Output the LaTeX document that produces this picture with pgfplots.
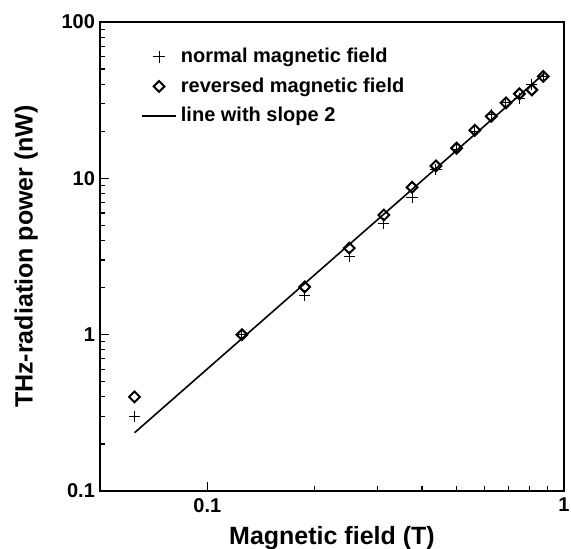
\documentclass[border=0pt]{standalone}
\usepackage{pgfplots}
\pgfplotsset{compat=1.18}
\usepackage{pgfplotstable}
\usepackage{fontspec}
\setmainfont{Liberation Sans}

% normal magnetic field
\pgfplotstableread{
x       y
0.0625  0.30
0.125   1.00
0.1875  1.79
0.25    3.16
0.3125  5.15
0.375   7.59
0.4375  11.4
0.5     15.3
0.5625  20.0
0.625   25.5
0.6875  30.5
0.75    32.4
0.8125  40.0
0.875   45.0
}\normaltab

% reversed magnetic field
\pgfplotstableread{
x       y
0.0625  0.40
0.125   1.00
0.1875  2.02
0.25    3.58
0.3125  5.83
0.375   8.76
0.4375  12.0
0.5     15.6
0.5625  20.3
0.625   24.9
0.6875  30.4
0.75    34.7
0.8125  36.8
0.875   44.9
}\revtab

\begin{document}
\begin{tikzpicture}
\begin{axis}[
  name=main,
  xmode=log, ymode=log,
  xmin=0.05, xmax=1, ymin=0.1, ymax=100,
  scale only axis,
  width=232pt, height=234.5pt,
  axis line style={line width=1.2pt},
  tick style={line width=0.6pt, black},
  major tick length=4.5pt, minor tick length=2.5pt,
  tick align=inside,
  xtick pos=lower, ytick pos=left,
  xtick={0.1,1}, xticklabels={0.1,1},
  ytick={0.1,1,10,100}, yticklabels={0.1,1,10,100},
  /pgf/number format/assume math mode=true,
  ticklabel style={font=\bfseries\fontsize{10}{12}\selectfont},
  yticklabel style={xshift=1pt},
  xlabel={Magnetic field (T)},
  ylabel={THz-radiation power (nW)},
  label style={font=\bfseries\fontsize{12.5}{15}\selectfont},
  xlabel style={at={(axis description cs:0.5,-0.115)}, anchor=base},
  ylabel style={at={(axis description cs:-0.145,0.5)}, anchor=base},
  legend style={draw=none, fill=none, at={(axis description cs:0.075,0.962)},
    anchor=north west, font=\bfseries\fontsize{10}{12}\selectfont,
    row sep=2pt},
  legend cell align=left,
]
\addplot[only marks, mark=+, mark size=2.8pt, line width=0.5pt, black] table {\normaltab};
\addlegendentry{normal magnetic field}
\addplot[only marks, mark=square, mark size=1.9pt, black,
  mark options={rotate=45, line width=1pt}] table {\revtab};
\addlegendentry{reversed magnetic field}
\addplot[no marks, line width=0.8pt, black] coordinates {(0.0625,0.236) (0.88,46.8)};
\addlegendentry{line with slope 2}
\end{axis}
\pgfresetboundingbox
\path[use as bounding box] ([xshift=-50pt,yshift=-28.5pt]main.south west)
  rectangle ([xshift=3.5pt,yshift=11pt]main.north east);
\end{tikzpicture}
\end{document}
